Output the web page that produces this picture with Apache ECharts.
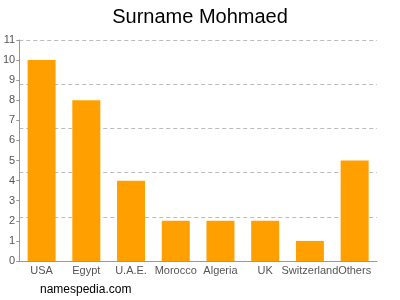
<!DOCTYPE html>
<html><head><meta charset="utf-8">
<script src="https://cdn.jsdelivr.net/npm/echarts@6/dist/echarts.min.js"></script>
<style>html,body{margin:0;padding:0;background:#fff}#c{width:400px;height:300px}</style>
</head><body><div id="c"></div>
<script>
var categories = ['USA','Egypt','U.A.E.','Morocco','Algeria','UK','Switzerland','Others'];
var values = [10, 8, 4, 2, 2, 2, 1, 5];
var yMax = 11;
var chart = echarts.init(document.getElementById('c'), null, {renderer:'canvas'});
chart.setOption({
  animation: false,
  title: {text: 'Surname Mohmaed', left: 'center', top: 2, textStyle: {fontFamily: 'Liberation Sans', fontSize: 20, fontWeight: 'normal', color: '#000'}},
  graphic: [{type: 'text', left: 40, top: 284, style: {text: 'namespedia.com', font: '12px "Liberation Sans"', fill: '#000'}}],
  grid: {left: 17, right: 23, top: 40, bottom: 39},
  xAxis: {type: 'category', data: categories,
    axisLine: {lineStyle: {color: '#999'}},
    axisTick: {alignWithLabel: true, length: 4, lineStyle: {color: '#999'}},
    axisLabel: {color: '#555', fontFamily: 'Liberation Sans', fontSize: 11, margin: 4, interval: 0}},
  yAxis: [
    {type: 'value', min: 0, max: yMax, interval: 1,
      axisLine: {show: true, lineStyle: {color: '#999'}},
      axisTick: {show: true, length: 3, lineStyle: {color: '#999'}},
      splitLine: {show: false},
      axisLabel: {color: '#555', fontFamily: 'Liberation Sans', fontSize: 11, margin: 4}},
    {type: 'value', min: 0, max: yMax, interval: 2.2, position: 'left',
      axisLine: {show: false}, axisTick: {show: false}, axisLabel: {show: false},
      splitLine: {show: true, lineStyle: {color: '#bbb', type: [4, 3]}}}
  ],
  series: [{type: 'bar', data: values, barWidth: 28, itemStyle: {color: '#ffa000'}}]
});
</script></body></html>
